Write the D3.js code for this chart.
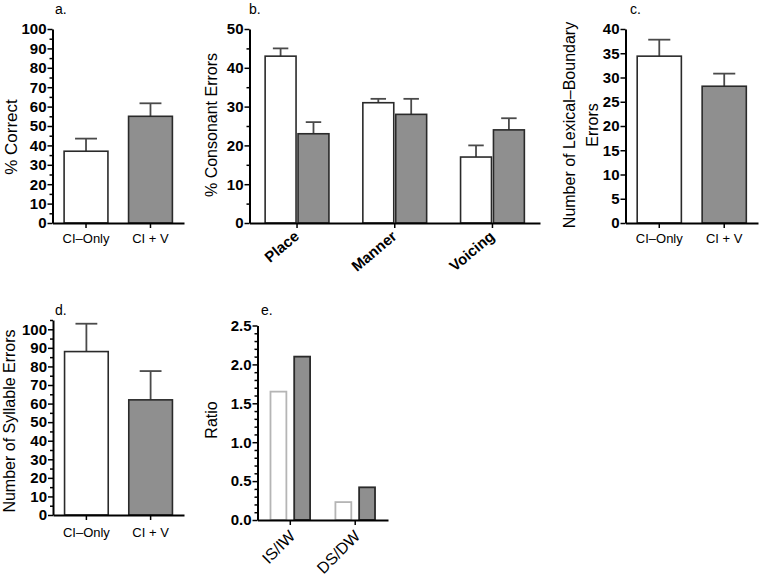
<!DOCTYPE html>
<html><head><meta charset="utf-8">
<script src="https://cdn.jsdelivr.net/npm/d3@7"></script>
<style>
body{margin:0;background:#fff}
svg text{font-family:"Liberation Sans", Arial, Helvetica, sans-serif;fill:#000}
</style>
</head><body>
<svg id="chart" width="760" height="576"></svg>
<script>
// ---------- data ----------
const groupLabels = ["CI–Only", "CI + V"];

const correctValues = [37, 55];
const correctErrors = [6.5, 6.7];
const correctTicks = [0, 10, 20, 30, 40, 50, 60, 70, 80, 90, 100];

const consonantCategories = ["Place", "Manner", "Voicing"];
const consonantCIOnly = [43, 31, 17];
const consonantCIOnlyErr = [2, 1, 3];
const consonantCIV = [23, 28, 24];
const consonantCIVErr = [3, 4, 3];
const consonantTicks = [0, 10, 20, 30, 40, 50];

const lexicalValues = [34.4, 28.2];
const lexicalErrors = [3.4, 2.6];
const lexicalTicks = [0, 5, 10, 15, 20, 25, 30, 35, 40];

const syllableValues = [88, 62];
const syllableErrors = [15, 15.5];
const syllableTicks = [0, 10, 20, 30, 40, 50, 60, 70, 80, 90, 100];

const ratioCategories = ["IS/IW", "DS/DW"];
const ratioCIOnly = [1.65, 0.23];
const ratioCIV = [2.10, 0.42];
const ratioTicks = [0, 0.5, 1.0, 1.5, 2.0, 2.5];

// ---------- styles ----------
const WHITE = "#ffffff", GRAY = "#8f8f8f", DARK = "#2a2a2a", ERR = "#4a4a4a";
const svg = d3.select("#chart");

function axes(g, o) {
  const y = d3.scaleLinear().domain([0, o.max]).range([o.yBottom, o.yTop]);
  const x = d3.scaleBand().domain(o.categories).range([o.x0, o.x1])
    .paddingInner(o.padIn).paddingOuter(o.padOut);
  if (o.minor) {
    const minors = d3.range(0, o.max + 1e-9, o.minor).filter(v => !o.ticks.some(t => Math.abs(t - v) < 1e-9));
    g.append("g").attr("transform", `translate(${o.x0},0)`)
      .call(d3.axisLeft(y).tickValues(minors).tickSize(3).tickFormat(""))
      .call(a => a.select(".domain").remove())
      .call(a => a.selectAll("line").attr("stroke", "#000").attr("stroke-width", 1.5));
  }
  const ya = g.append("g").attr("transform", `translate(${o.x0},0)`)
    .call(d3.axisLeft(y).tickValues(o.ticks).tickSize(5).tickSizeOuter(0).tickPadding(1)
      .tickFormat(o.fmt || d3.format("d")));
  ya.select(".domain").attr("stroke", "#000").attr("stroke-width", 2);
  ya.selectAll(".tick line").attr("stroke", "#000").attr("stroke-width", 1.5);
  ya.selectAll(".tick text").attr("font-size", 15).attr("font-weight", "bold")
    .attr("font-family", '"Liberation Sans", Arial, sans-serif').attr("fill", "#000");
  const xa = g.append("g").attr("transform", `translate(0,${o.yBottom})`)
    .call(d3.axisBottom(x).tickSize(5).tickSizeOuter(0).tickPadding(o.xPad || 6));
  xa.select(".domain").attr("stroke", "#000").attr("stroke-width", 2);
  xa.selectAll(".tick line").attr("stroke", "#000").attr("stroke-width", 1.5);
  xa.selectAll(".tick text").attr("font-size", o.xFont || 13).attr("font-weight", o.xBold ? "bold" : "normal")
    .attr("font-family", '"Liberation Sans", Arial, sans-serif').attr("fill", "#000");
  if (o.rotate) {
    xa.selectAll(".tick text").attr("x", 0).attr("y", 0).attr("dy", 0)
      .attr("text-anchor", "end")
      .attr("transform", `translate(${o.rotDx},${o.rotDy}) rotate(${o.rotate})`);
  }
  const t = g.append("text").attr("font-size", o.titleSize || 16).attr("text-anchor", "middle")
    .attr("transform", `translate(${o.titleX},${o.titleY}) rotate(-90)`);
  o.title.forEach((line, i) => {
    t.append("tspan").attr("x", 0).attr("dy", i === 0 ? -(o.title.length - 1) * 23 : 23).text(line);
  });
  g.append("text").attr("x", o.labelX).attr("y", o.labelY).attr("font-size", 14).text(o.label);
  return { x, y };
}

function errorBar(g, cx, w, yTop, yEnd) {
  g.append("line").attr("x1", cx).attr("x2", cx).attr("y1", yTop).attr("y2", yEnd)
    .attr("stroke", ERR).attr("stroke-width", 1.8);
  g.append("line").attr("x1", cx - w / 2).attr("x2", cx + w / 2).attr("y1", yEnd).attr("y2", yEnd)
    .attr("stroke", ERR).attr("stroke-width", 1.8);
}

function simplePanel(o, values, errors) {
  const g = svg.append("g");
  const { x, y } = axes(g, Object.assign({ categories: groupLabels, padIn: 0.32, padOut: 0.18 }, o));
  const fills = [WHITE, GRAY];
  const bars = g.insert("g", ":first-child");
  groupLabels.forEach((c, i) => {
    const bx = x(c), bw = x.bandwidth();
    errorBar(bars, bx + bw / 2, bw / 2, y(values[i]), y(values[i] + errors[i]));
  });
  groupLabels.forEach((c, i) => {
    bars.append("rect").attr("x", x(c)).attr("width", x.bandwidth())
      .attr("y", y(values[i])).attr("height", y(0) - y(values[i]))
      .attr("fill", fills[i]).attr("stroke", DARK).attr("stroke-width", 1.6);
  });
}

// a.
simplePanel({ x0: 52.5, x1: 184, yTop: 29, yBottom: 223, max: 100, ticks: correctTicks, minor: 5,
  title: ["% Correct"], titleSize: 17, titleX: 17, titleY: 137, label: "a.", labelX: 55, labelY: 14 },
  correctValues, correctErrors);

// c.
simplePanel({ x0: 625.5, x1: 758, yTop: 29, yBottom: 223, max: 40, ticks: lexicalTicks, minor: null,
  title: ["Number of Lexical–Boundary", "Errors"], titleX: 598, titleY: 125, label: "c.", labelX: 630, labelY: 14 },
  lexicalValues, lexicalErrors);

// d.
simplePanel({ x0: 53, x1: 184, yTop: 320, yBottom: 515, max: 105, ticks: syllableTicks, minor: 5, xPad: 8,
  title: ["Number of Syllable Errors"], titleX: 15, titleY: 421, label: "d.", labelX: 55, labelY: 315 },
  syllableValues, syllableErrors);

// b.
(function () {
  const g = svg.append("g");
  const { x, y } = axes(g, { categories: consonantCategories, x0: 249.5, x1: 540, yTop: 29, yBottom: 223,
    max: 50, ticks: consonantTicks, minor: 5, padIn: 0.347, padOut: 0.16, xBold: true, xFont: 15,
    rotate: -40, rotDx: 3, rotDy: 15,
    title: ["% Consonant Errors"], titleX: 217, titleY: 125, label: "b.", labelX: 249, labelY: 14 });
  const x1 = d3.scaleBand().domain([0, 1]).range([0, x.bandwidth()]).paddingInner(0.06);
  const series = [
    { v: consonantCIOnly, e: consonantCIOnlyErr, fill: WHITE },
    { v: consonantCIV, e: consonantCIVErr, fill: GRAY }
  ];
  const bars = g.insert("g", ":first-child");
  series.forEach((s, si) => consonantCategories.forEach((c, i) => {
    const bx = x(c) + x1(si), bw = x1.bandwidth();
    errorBar(bars, bx + bw / 2, bw / 2, y(s.v[i]), y(s.v[i] + s.e[i]));
  }));
  series.forEach((s, si) => consonantCategories.forEach((c, i) => {
    bars.append("rect").attr("x", x(c) + x1(si)).attr("width", x1.bandwidth())
      .attr("y", y(s.v[i])).attr("height", y(0) - y(s.v[i]))
      .attr("fill", s.fill).attr("stroke", DARK).attr("stroke-width", 1.6);
  }));
})();

// e.
(function () {
  const g = svg.append("g");
  const { x, y } = axes(g, { categories: ratioCategories, x0: 257.5, x1: 388, yTop: 325.5, yBottom: 520,
    max: 2.5, ticks: ratioTicks, minor: 0.1, padIn: 0.39, padOut: 0.2, xFont: 16,
    fmt: d3.format(".1f"), rotate: -45, rotDx: 6, rotDy: 17,
    title: ["Ratio"], titleX: 217, titleY: 420, label: "e.", labelX: 261, labelY: 315 });
  const x1 = d3.scaleBand().domain([0, 1]).range([0, x.bandwidth()]).paddingInner(0.33);
  const series = [
    { v: ratioCIOnly, fill: WHITE, stroke: "#b5b5b5" },
    { v: ratioCIV, fill: GRAY, stroke: DARK }
  ];
  const bars = g.insert("g", ":first-child");
  series.forEach((s, si) => ratioCategories.forEach((c, i) => {
    bars.append("rect").attr("x", x(c) + x1(si)).attr("width", x1.bandwidth())
      .attr("y", y(s.v[i])).attr("height", y(0) - y(s.v[i]))
      .attr("fill", s.fill).attr("stroke", s.stroke).attr("stroke-width", 1.8);
  }));
})();
</script>
</body></html>
